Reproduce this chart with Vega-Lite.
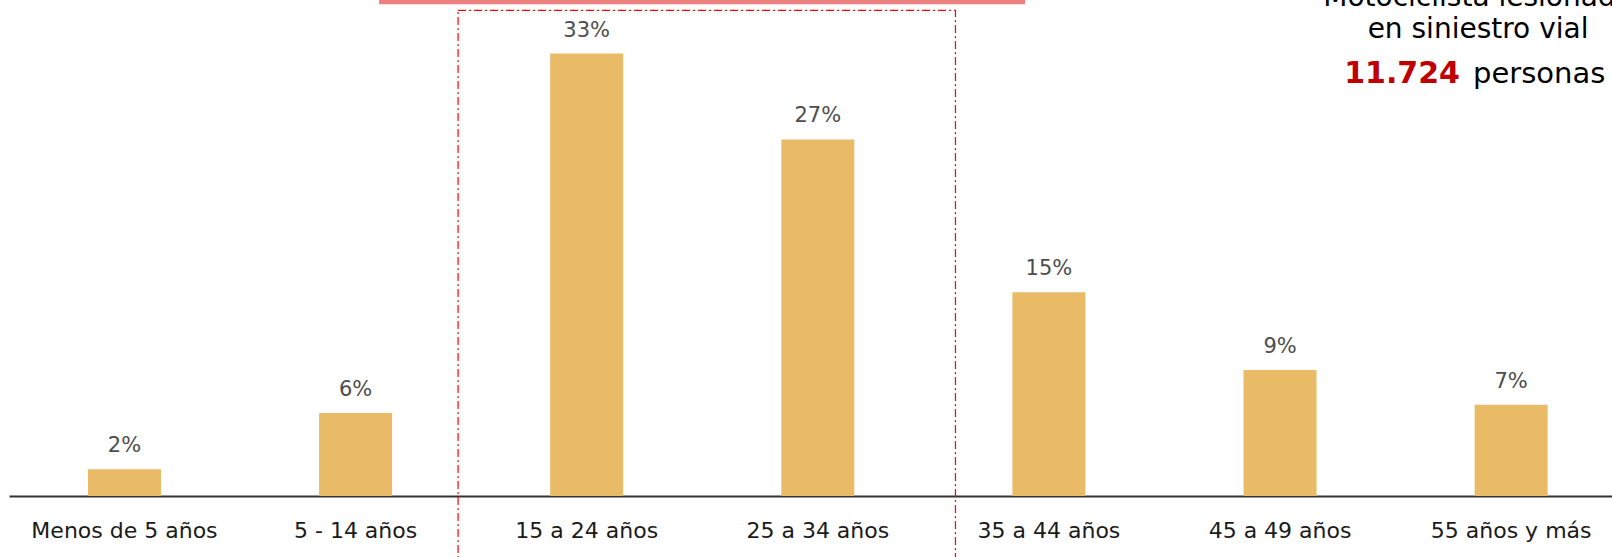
{
  "$schema": "https://vega.github.io/schema/vega-lite/v6.json",
  "width": 1603,
  "height": 496,
  "autosize": {"type": "none"},
  "padding": {"left": 9, "top": 0, "right": 0, "bottom": 61},
  "background": "#ffffff",
  "config": {"view": {"stroke": null}, "font": "DejaVu Sans"},
  "datasets": {
    "bars": [
      {"grupo": "Menos de 5 años", "pct": 0.020},
      {"grupo": "5 - 14 años", "pct": 0.062},
      {"grupo": "15 a 24 años", "pct": 0.330},
      {"grupo": "25 a 34 años", "pct": 0.266},
      {"grupo": "35 a 44 años", "pct": 0.152},
      {"grupo": "45 a 49 años", "pct": 0.094},
      {"grupo": "55 años y más", "pct": 0.068}
    ],
    "frame": [{"x0": 1.961, "x1": 4.133, "y0": -0.048, "y1": 0.3622}],
    "header": [{"x0": 1.616, "x1": 4.437, "y0": 0.3669, "y1": 0.376}],
    "lines": [
      {"t": "Motociclista lesionado", "x": 6.415, "y": 0.3652},
      {"t": "en siniestro vial", "x": 6.415, "y": 0.3417}
    ],
    "cifra": [{"t": "11.724", "x": 6.336, "y": 0.3081}],
    "unidad": [{"t": "personas", "x": 6.393, "y": 0.3081}]
  },
  "layer": [
    {
      "data": {"name": "bars"},
      "encoding": {
        "x": {
          "field": "grupo",
          "type": "nominal",
          "sort": null,
          "scale": {"paddingInner": 0.684, "paddingOuter": 0.31, "align": 0.551},
          "axis": {
            "title": null,
            "domainColor": "#333333",
            "domainWidth": 2,
            "ticks": false,
            "tickSize": 0,
            "labelAngle": 0,
            "labelFontSize": 22,
            "labelColor": "#1a1a1a",
            "labelPadding": 24,
            "labelLimit": 0,
            "labelOverlap": false,
            "labelFont": "DejaVu Sans",
            "grid": false
          }
        },
        "y": {
          "field": "pct",
          "type": "quantitative",
          "scale": {"domain": [0, 0.37], "nice": false, "zero": true},
          "axis": null
        }
      },
      "layer": [
        {"mark": {"type": "bar", "color": "#E9BB67"}},
        {
          "mark": {"type": "text", "baseline": "alphabetic", "dy": -17, "fontSize": 21, "color": "#4d4d4d", "font": "DejaVu Sans"},
          "encoding": {"text": {"field": "pct", "type": "quantitative", "format": ".0%"}}
        }
      ]
    },
    {
      "encoding": {
        "x": {"field": "x0", "type": "quantitative", "scale": {"domain": [0, 7], "nice": false, "zero": false}, "axis": null}
      },
      "layer": [
        {
          "data": {"name": "header"},
          "mark": {"type": "rect", "color": "#EC8181"},
          "encoding": {
            "x2": {"field": "x1"},
            "y": {"field": "y0", "type": "quantitative", "scale": {"domain": [0, 0.37], "nice": false}, "axis": null},
            "y2": {"field": "y1"}
          }
        },
        {
          "data": {"name": "frame"},
          "mark": {"type": "rect", "filled": false, "stroke": "#FF0000", "strokeWidth": 1.2, "strokeDash": [8, 3, 2, 3]},
          "encoding": {
            "x2": {"field": "x1"},
            "y": {"field": "y0", "type": "quantitative", "scale": {"domain": [0, 0.37], "nice": false}, "axis": null},
            "y2": {"field": "y1"}
          }
        },
        {
          "data": {"name": "lines"},
          "mark": {"type": "text", "align": "center", "baseline": "alphabetic", "fontSize": 28, "color": "#000000", "font": "DejaVu Sans"},
          "encoding": {
            "x": {"field": "x", "type": "quantitative"},
            "y": {"field": "y", "type": "quantitative", "scale": {"domain": [0, 0.37], "nice": false}, "axis": null},
            "text": {"field": "t"}
          }
        },
        {
          "data": {"name": "cifra"},
          "mark": {"type": "text", "align": "right", "baseline": "alphabetic", "fontSize": 30, "fontWeight": "bold", "color": "#C00000", "font": "DejaVu Sans"},
          "encoding": {
            "x": {"field": "x", "type": "quantitative"},
            "y": {"field": "y", "type": "quantitative", "scale": {"domain": [0, 0.37], "nice": false}, "axis": null},
            "text": {"field": "t"}
          }
        },
        {
          "data": {"name": "unidad"},
          "mark": {"type": "text", "align": "left", "baseline": "alphabetic", "fontSize": 29, "color": "#000000", "font": "DejaVu Sans"},
          "encoding": {
            "x": {"field": "x", "type": "quantitative"},
            "y": {"field": "y", "type": "quantitative", "scale": {"domain": [0, 0.37], "nice": false}, "axis": null},
            "text": {"field": "t"}
          }
        }
      ]
    }
  ],
  "resolve": {"scale": {"x": "independent"}, "axis": {"x": "independent"}}
}
